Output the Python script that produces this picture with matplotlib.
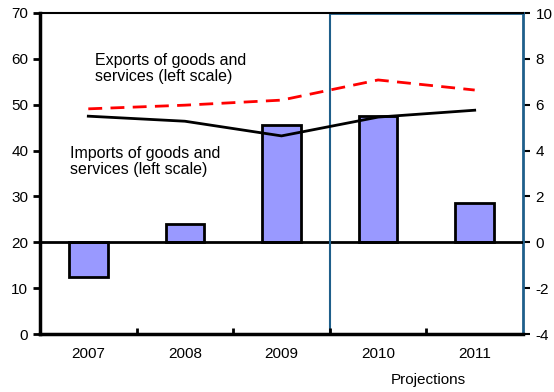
import numpy as np
import matplotlib.pyplot as plt

plt.rcParams['font.family'] = ['Liberation Sans', 'DejaVu Sans']
plt.rcParams['axes.unicode_minus'] = False

years = ['2007', '2008', '2009', '2010', '2011']
balance = [-1.5, 0.8, 5.1, 5.5, 1.7]          # right scale (bars)
exports = [49.1, 49.9, 51.0, 55.4, 53.2]      # left scale
imports = [47.5, 46.4, 43.2, 47.3, 48.8]      # left scale

x = np.arange(len(years))
blue = '#1F5F8B'

fig = plt.figure(figsize=(5.54, 3.92), dpi=100)
ax1 = fig.add_axes([40 / 554, 58 / 392, 483 / 554, 321 / 392])
ax2 = ax1.twinx()
# lines (left axis) drawn above the bars (right axis)
ax1.set_zorder(ax2.get_zorder() + 1)
ax1.patch.set_visible(False)

# bars on the right axis
ax2.bar(x, balance, width=0.4, color='#9999FF', edgecolor='black', linewidth=2, zorder=2)
ax2.axhline(0, color='black', linewidth=2, zorder=3)
ax2.set_ylim(-4, 10)
ax2.set_yticks(range(-4, 11, 2))
ax2.tick_params(axis='y', direction='out', length=5, width=1.5, labelsize=11, pad=4)
for s in ['top', 'left', 'bottom']:
    ax2.spines[s].set_visible(False)
ax2.spines['right'].set_linewidth(2)
ax2.spines['right'].set_color(blue)

# projections box (left edge and top)
ax2.axvline(2.5, color=blue, linewidth=1.5, zorder=4)
ax2.plot([2.5, 4.5], [10, 10], color=blue, linewidth=2, clip_on=False, zorder=5)

ax1.plot(x, exports, color='#FF0000', linestyle=(0, (5, 3)), linewidth=2)
ax1.plot(x, imports, color='black', linewidth=2)

ax1.set_ylim(0, 70)
ax1.set_yticks(range(0, 71, 10))
ax1.set_xlim(-0.5, 4.5)
ax2.set_xlim(-0.5, 4.5)
ax1.set_xticks(x)
ax1.set_xticklabels(years)
ax1.set_xticks(np.arange(0.5, 4.5, 1), minor=True)
ax1.tick_params(axis='x', which='major', length=0, labelsize=11, pad=9)
ax1.tick_params(axis='x', which='minor', direction='in', length=4, width=2)
ax1.tick_params(axis='y', direction='out', length=5, width=2, labelsize=11)
for s in ['left', 'bottom']:
    ax1.spines[s].set_linewidth(2.5)
ax1.spines['top'].set_linewidth(1.5)
ax1.spines['right'].set_visible(False)

ax1.text(0.07, 57.9, 'Exports of goods and\nservices (left scale)', fontsize=11.5,
         va='center', ha='left', linespacing=1.1)
ax1.text(-0.19, 37.7, 'Imports of goods and\nservices (left scale)', fontsize=11.5,
         va='center', ha='left', linespacing=1.1)
fig.text(428 / 554, 1 - 380 / 392, 'Projections', fontsize=11, ha='center', va='center')

fig.savefig('out.png', dpi=100)
